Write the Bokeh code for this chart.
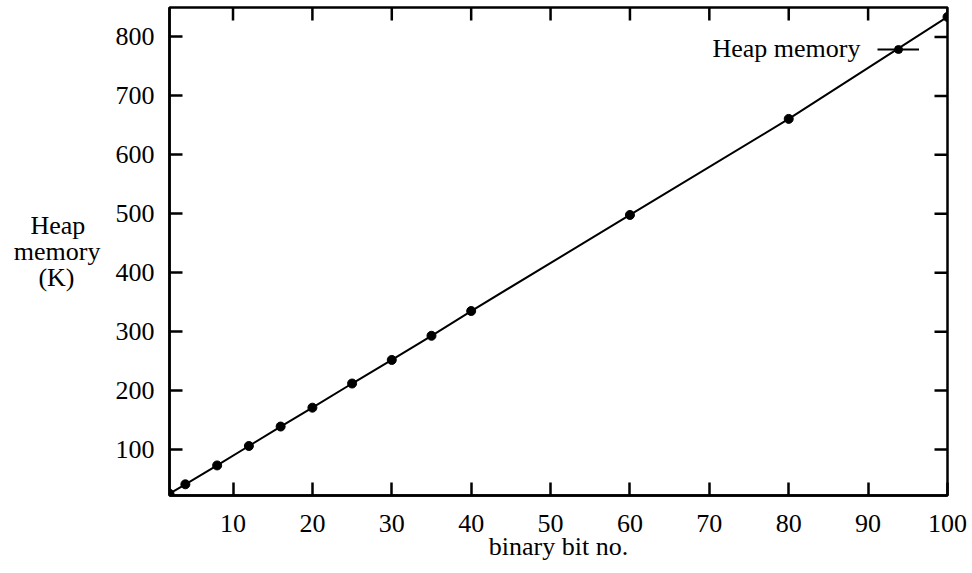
from bokeh.plotting import figure
from bokeh.models import FixedTicker, Legend, LegendItem, Range1d, Label
from bokeh.embed import file_html
from bokeh.resources import INLINE

# ---- data ----
bits = [2, 4, 8, 12, 16, 20, 25, 30, 35, 40, 60, 80, 100]
heap_k = [25, 41, 73, 106, 139, 171, 212, 252, 293, 335, 498, 661, 834]
x_ticks = [10, 20, 30, 40, 50, 60, 70, 80, 90, 100]
y_ticks = [100, 200, 300, 400, 500, 600, 700, 800]
series_name = "Heap memory"
x_title = "binary bit no."
# lines of the y title; en/hair spaces keep the shorter lines centred under right alignment
y_title_lines = ["Heap\u2002\u200a", "memory", "(K)\u2002\u2002"]

FONT = "Liberation Serif"
FS = "26px"
W, H = 972, 573
BL, BR, BT, BB = 169, 25, 7, 78
X0, X1, Y0, Y1 = 2, 100, 22, 850
TICK = 13

p = figure(width=W, height=H, x_range=Range1d(X0, X1), y_range=Range1d(Y0, Y1),
           output_backend="svg", toolbar_location=None,
           min_border_left=BL, min_border_right=BR, min_border_top=BT, min_border_bottom=BB)
p.grid.visible = False
p.outline_line_color = "black"
p.outline_line_width = 2.5
p.background_fill_color = "white"
p.border_fill_color = "white"


def style_axis(ax, ticks):
    ax.ticker = FixedTicker(ticks=ticks)
    ax.major_tick_in = TICK
    ax.major_tick_out = 0
    ax.minor_tick_in = 0
    ax.minor_tick_out = 0
    ax.major_tick_line_width = 2.5
    ax.major_tick_line_color = "black"
    ax.axis_line_width = 2.5
    ax.axis_line_color = "black"
    ax.major_label_text_font = FONT
    ax.major_label_text_font_size = FS
    ax.major_label_text_color = "black"
    ax.axis_label_text_font = FONT
    ax.axis_label_text_font_size = FS
    ax.axis_label_text_font_style = "normal"
    ax.axis_label_text_color = "black"


xa = p.xaxis[0]
ya = p.yaxis[0]
style_axis(xa, x_ticks)
style_axis(ya, y_ticks)
xa.major_label_standoff = 19
ya.major_label_standoff = 15
xa.axis_label = x_title
xa.axis_label_standoff = -3
ya.axis_label = "\n".join(y_title_lines)
ya.axis_label_orientation = "horizontal"
ya.axis_label_text_line_height = 0.88
ya.axis_label_standoff = 12

# mirrored inward ticks on the top and right edges of the frame
frame_w = W - BL - BR
frame_h = H - BT - BB
dy = TICK * (Y1 - Y0) / frame_h
dx = TICK * (X1 - X0) / frame_w
p.segment(x0=x_ticks, y0=[Y1] * len(x_ticks), x1=x_ticks, y1=[Y1 - dy] * len(x_ticks),
          line_width=2.5, line_color="black")
p.segment(x0=[X1] * len(y_ticks), y0=y_ticks, x1=[X1 - dx] * len(y_ticks), y1=y_ticks,
          line_width=2.5, line_color="black")

r_line = p.line(bits, heap_k, line_width=2, line_color="black")
r_pts = p.scatter(bits, heap_k, size=9, fill_color="black", line_color="black")

# key: sample drawn by a Legend, its text placed to the left like gnuplot's key
legend = Legend(items=[LegendItem(label="", renderers=[r_line, r_pts])],
                location=(708, 436), glyph_width=42, glyph_height=20,
                padding=0, margin=0, spacing=0, label_standoff=0, label_width=0,
                label_text_font=FONT, label_text_font_size=FS,
                border_line_color=None, background_fill_alpha=0)
p.add_layout(legend)
p.add_layout(Label(x=691, y=447, x_units="screen", y_units="screen", text=series_name,
                   text_align="right", text_baseline="alphabetic",
                   text_font=FONT, text_font_size=FS, text_color="black"))

open("out.html", "w").write(file_html(p, INLINE))
